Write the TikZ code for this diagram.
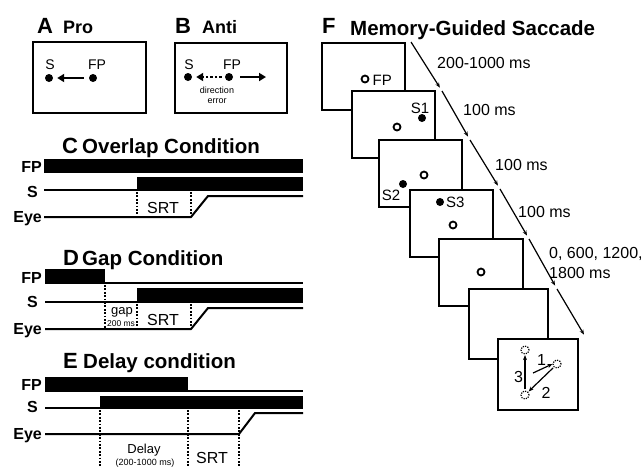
\documentclass[tikz,border=0pt]{standalone}
\usepackage{fontspec}
\setmainfont{Liberation Sans}
\usetikzlibrary{arrows.meta}
\begin{document}
\begin{tikzpicture}[x=1pt,y=-1pt,
  panel/.style={font=\bfseries\fontsize{22}{24}\selectfont, anchor=base west, inner sep=0},
  heading/.style={font=\bfseries\fontsize{20.5}{22}\selectfont, anchor=base west, inner sep=0},
  subhead/.style={font=\bfseries\fontsize{18}{20}\selectfont, anchor=base west, inner sep=0},
  sig/.style={font=\bfseries\fontsize{16}{18}\selectfont, anchor=base east, inner sep=0},
  txt/.style={font=\fontsize{16}{18}\selectfont, anchor=base west, inner sep=0},
  ctxt/.style={font=\fontsize{16}{18}\selectfont, anchor=base, inner sep=0},
  tiny/.style={font=\fontsize{9}{10}\selectfont, anchor=base, inner sep=0},
  boxframe/.style={draw, line width=2.5, fill=white},
  dot/.style={circle, fill, inner sep=0, minimum size=8},
  ring/.style={circle, draw, line width=1.8, inner sep=0, minimum size=7},
  ghost/.style={circle, draw, line width=1.2, dash pattern=on 1.2 off 1.2, inner sep=0, minimum size=8},
  trace/.style={line width=2},
  marker/.style={line width=2, dash pattern=on 1.7 off 1.7},
  fatarrow/.style={line width=2.6, -{Triangle[length=7,width=8]}},
  thinarrow/.style={line width=1.2, -{Stealth[length=5,width=4]}},
]
\useasboundingbox (0,0) rectangle (644,467);

% ---------- A: pro-saccade ----------
\node[panel] (hA) at (37,33) {A};
\node[subhead] (tA) at (63,33) {Pro};
\draw[line width=2.5] (33,42) rectangle (146,113);
\node[dot] (sA) at (49,78) {};
\node[dot] (fpA) at (93,78) {};
\node[font=\fontsize{14}{16}\selectfont, inner sep=0] (lsA) at (50,65) {S};
\node[font=\fontsize{14}{16}\selectfont, inner sep=0] (lfpA) at (97,65) {FP};
\draw[fatarrow, shorten <=5, shorten >=4] (fpA) -- (sA);

% ---------- B: anti-saccade ----------
\node[panel] (hB) at (175,33) {B};
\node[subhead] (tB) at (202,33) {Anti};
\draw[line width=2.5] (175,43) rectangle (287,113);
\node[dot] (sB) at (188,77) {};
\node[dot] (fpB) at (229,77) {};
\node[font=\fontsize{14}{16}\selectfont, inner sep=0] (lsB) at (189,65) {S};
\node[font=\fontsize{14}{16}\selectfont, inner sep=0] (lfpB) at (232,65) {FP};
\coordinate (goB) at (266,77);
\draw[fatarrow, dash pattern=on 2.5 off 2, shorten <=3, shorten >=4] (fpB) -- (sB);
\draw[fatarrow, shorten <=7] (fpB) -- (goB);
\node[font=\fontsize{9}{10}\selectfont, inner sep=0] (errB1) at (217,90) {direction};
\node[font=\fontsize{9}{10}\selectfont, inner sep=0] (errB2) at (217,101) {error};

% ---------- C: overlap condition ----------
\node[panel] (hC) at (62,153) {C};
\node[heading] (tC) at (82,153) {Overlap Condition};
\node[sig] (fpC) at (42,172) {FP};
\node[sig] (sC) at (38,197) {S};
\node[sig] (eyeC) at (42,222) {Eye};
\fill (44,159) rectangle (303,173);
\draw[trace] (44,190) -- (137,190);
\fill (137,177) rectangle (303,191);
\draw[trace] (44,217) -- (191,217) -- (208,196) -- (303,196);
\draw[marker] (137,192) -- (137,214);
\draw[marker] (191,192) -- (191,214);
\node[ctxt] (srtC) at (163,213) {SRT};

% ---------- D: gap condition ----------
\node[panel] (hD) at (63,265) {D};
\node[heading] (tD) at (82,265) {Gap Condition};
\node[sig] (fpD) at (42,283) {FP};
\node[sig] (sD) at (38,307) {S};
\node[sig] (eyeD) at (42,334) {Eye};
\fill (45,269) rectangle (105,284);
\draw[trace] (105,283) -- (303,283);
\draw[trace] (45,302) -- (137,302);
\fill (137,288) rectangle (303,303);
\draw[trace] (45,329) -- (191,329) -- (208,308) -- (303,308);
\draw[marker] (105,285) -- (105,328);
\draw[marker] (137,304) -- (137,328);
\draw[marker] (191,304) -- (191,328);
\node[font=\fontsize{13}{14}\selectfont, anchor=base, inner sep=0] (gapD) at (122,314) {gap};
\node[font=\fontsize{8.5}{9}\selectfont, anchor=base, inner sep=0] (gapmsD) at (121,326) {200 ms};
\node[ctxt] (srtD) at (163,325) {SRT};

% ---------- E: delay condition ----------
\node[panel] (hE) at (63,368) {E};
\node[heading] (tE) at (83,368) {Delay condition};
\node[sig] (fpE) at (42,390) {FP};
\node[sig] (sE) at (38,412) {S};
\node[sig] (eyeE) at (42,439) {Eye};
\fill (45,377) rectangle (188,392);
\draw[trace] (188,391) -- (303,391);
\draw[trace] (45,408) -- (100,408);
\fill (100,396) rectangle (303,409);
\draw[trace] (45,434) -- (239,434) -- (255,413) -- (303,413);
\draw[marker] (100,410) -- (100,468);
\draw[marker] (188,410) -- (188,468);
\draw[marker] (239,410) -- (239,468);
\node[font=\fontsize{13}{14}\selectfont, anchor=base, inner sep=0] (delE) at (144,453) {Delay};
\node[tiny] (delmsE) at (145,465) {(200-1000 ms)};
\node[ctxt] (srtE) at (212,463) {SRT};

% ---------- F: memory-guided saccade ----------
\node[panel] (hF) at (322,33) {F};
\node[heading] (tF) at (350,35) {Memory-Guided Saccade};

% frame 1: fixation
\draw[boxframe] (322,43) rectangle (405,110);
\node[ring] (fp1) at (365,79) {};
\node[font=\fontsize{15}{17}\selectfont, anchor=base west, inner sep=0] (lfp1) at (372.5,85) {FP};
% frame 2: first target
\draw[boxframe] (352,91) rectangle (435,158);
\node[ring] (fp2) at (397,127) {};
\node[dot] (s1) at (422,118) {};
\node[font=\fontsize{15}{17}\selectfont, anchor=base, inner sep=0] (ls1) at (420,113) {S1};
% frame 3: second target
\draw[boxframe] (379,140) rectangle (462,207);
\node[ring] (fp3) at (424,175) {};
\node[dot] (s2) at (403,184) {};
\node[font=\fontsize{15}{17}\selectfont, anchor=base, inner sep=0] (ls2) at (391,200) {S2};
% frame 4: third target
\draw[boxframe] (410,190) rectangle (493,257);
\node[dot] (s3) at (440,202) {};
\node[font=\fontsize{15}{17}\selectfont, anchor=base west, inner sep=0] (ls3) at (446,207) {S3};
\node[ring] (fp4) at (453,225) {};
% frame 5: fixation only
\draw[boxframe] (439,239) rectangle (523,306);
\node[ring] (fp5) at (481,272) {};
% frame 6: blank
\draw[boxframe] (469,289) rectangle (548,359);
% frame 7: remembered sequence
\draw[boxframe] (498,339) rectangle (578,410);
\node[ghost] (g1) at (525,350) {};
\node[ghost] (g2) at (557,364) {};
\node[ghost] (g3) at (525,395) {};
\coordinate (m1) at (533,373);
\draw[thinarrow] (m1) -- (g2.west);
\draw[thinarrow, shorten <=1, shorten >=0.5] (g2.south west) -- (g3.north east);
\draw[thinarrow, shorten <=1, shorten >=0.5] (g3.north) -- (g1.south);
\node[font=\fontsize{16}{18}\selectfont, anchor=base, inner sep=0] (n1) at (541.5,365) {1};
\node[font=\fontsize{16}{18}\selectfont, anchor=base, inner sep=0] (n2) at (546,398) {2};
\node[font=\fontsize{16}{18}\selectfont, anchor=base, inner sep=0] (n3) at (518.5,382) {3};

% time line between frames
\coordinate (t0) at (411,42);
\coordinate (t1) at (442,91);
\coordinate (t2) at (470,140);
\coordinate (t3) at (500,189);
\coordinate (t4) at (529,239);
\coordinate (t5) at (557,289);
\coordinate (t6) at (586,338);
\foreach \a/\b in {t0/t1,t1/t2,t2/t3,t3/t4,t4/t5,t5/t6}
  \draw[thinarrow, shorten >=4] (\a) -- (\b);
\node[txt] (d1) at (437,68) {200-1000 ms};
\node[txt] (d2) at (463,115) {100 ms};
\node[txt] (d3) at (495,170) {100 ms};
\node[txt] (d4) at (518,217) {100 ms};
\node[txt] (d5) at (549,258) {0, 600, 1200,};
\node[txt] (d6) at (549,278) {1800 ms};
\end{tikzpicture}
\end{document}
